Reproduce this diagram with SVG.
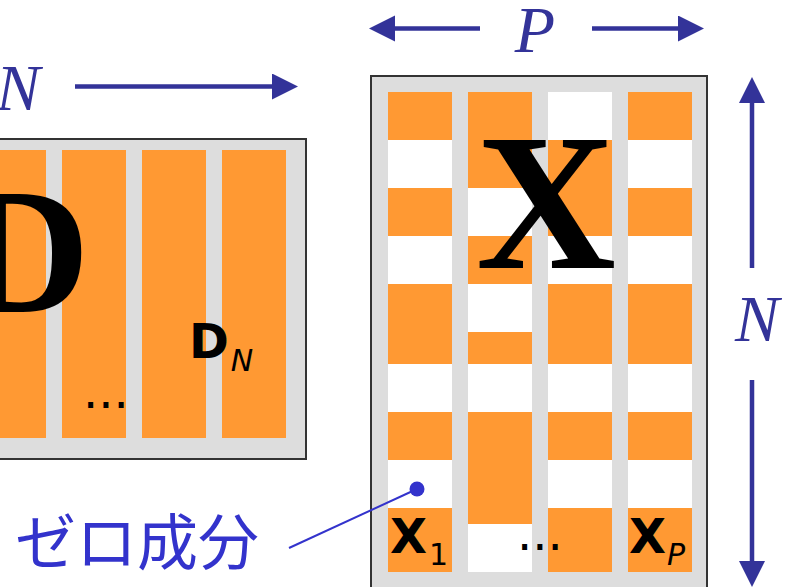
<svg xmlns="http://www.w3.org/2000/svg" width="790" height="587" viewBox="0 0 790 587">
<style>
.panel{fill:#dddddd;stroke:#333333;stroke-width:2}
.col{fill:#ffffff}
.or{fill:#ff9933}
.dim{stroke:#333399;stroke-width:4.5;fill:none;marker-end:url(#ah)}
.dimtxt{font-family:"Liberation Serif",serif;font-style:italic;font-size:66px;fill:#333399}
.big{font-family:"Liberation Serif",serif;font-weight:bold;fill:#000}
.lab{font-family:"DejaVu Sans",sans-serif;font-weight:bold;font-size:48px;fill:#000}
.sub{font-family:"DejaVu Sans",sans-serif;font-weight:normal;font-size:30px;fill:#000}
.dots{font-family:"DejaVu Sans",sans-serif;font-size:48px;fill:#000}
</style>
<defs>
<marker id="ah" markerUnits="userSpaceOnUse" markerWidth="27" markerHeight="27" refX="0" refY="13" orient="auto">
<path d="M0,0 L26,13 L0,26 z" fill="#333399"/>
</marker>
</defs>
<g id="matrixD">
<rect class="panel" x="-10" y="139" width="316" height="320"/>
<rect class="or" x="-18" y="150" width="64" height="288"/>
<rect class="or" x="62" y="150" width="64" height="288"/>
<rect class="or" x="142" y="150" width="64" height="288"/>
<rect class="or" x="222" y="150" width="64" height="288"/>
<text class="big" x="-40" y="312" font-size="180">D</text>
<text class="lab" x="189" y="358">D<tspan class="sub" font-style="italic" dx="2" y="371">N</tspan></text>
<text class="dots" x="83" y="408">...</text>
</g>
<g id="matrixX">
<rect class="panel" x="371" y="76" width="336" height="530"/>
<rect class="col" x="388" y="92" width="64" height="480"/>
<rect class="col" x="468" y="92" width="64" height="480"/>
<rect class="col" x="548" y="92" width="64" height="480"/>
<rect class="col" x="628" y="92" width="64" height="480"/>
<g id="col1">
<rect class="or" x="388" y="92" width="64" height="48"/>
<rect class="or" x="388" y="188" width="64" height="48"/>
<rect class="or" x="388" y="284" width="64" height="80"/>
<rect class="or" x="388" y="412" width="64" height="48"/>
<rect class="or" x="388" y="508" width="64" height="64"/>
</g>
<g id="col2">
<rect class="or" x="468" y="92" width="64" height="96"/>
<rect class="or" x="468" y="236" width="64" height="48"/>
<rect class="or" x="468" y="332" width="64" height="32"/>
<rect class="or" x="468" y="412" width="64" height="112"/>
</g>
<g id="col3">
<rect class="or" x="548" y="140" width="64" height="96"/>
<rect class="or" x="548" y="284" width="64" height="80"/>
<rect class="or" x="548" y="412" width="64" height="48"/>
<rect class="or" x="548" y="508" width="64" height="64"/>
</g>
<g id="col4">
<rect class="or" x="628" y="92" width="64" height="48"/>
<rect class="or" x="628" y="188" width="64" height="48"/>
<rect class="or" x="628" y="284" width="64" height="80"/>
<rect class="or" x="628" y="412" width="64" height="48"/>
<rect class="or" x="628" y="508" width="64" height="64"/>
</g>
<text class="big" x="546" y="268" font-size="194" text-anchor="middle">X</text>
<text class="lab" x="390" y="553">X<tspan class="sub" dx="2" y="565">1</tspan></text>
<text class="lab" x="629" y="553">X<tspan class="sub" font-style="italic" dx="1" y="565">P</tspan></text>
<text class="dots" x="517" y="550">...</text>
</g>
<g id="label-zero">
<text x="15" y="565" font-family="'Noto Sans CJK JP',sans-serif" font-size="61" fill="#3333cc">ゼロ成分</text>
</g>
<g id="connectors">
<line class="dim" x1="75" y1="86.5" x2="272" y2="86.5"/>
<line class="dim" x1="480" y1="28.5" x2="395" y2="28.5"/>
<line class="dim" x1="592" y1="28.5" x2="678" y2="28.5"/>
<line class="dim" x1="752" y1="268" x2="752" y2="103"/>
<line class="dim" x1="752" y1="380" x2="752" y2="561"/>
<line x1="289" y1="548" x2="417" y2="489" stroke="#3333cc" stroke-width="2"/>
<circle cx="417" cy="489" r="7.5" fill="#3333cc"/>
</g>
<g id="dim-labels">
<text class="dimtxt" x="-4" y="110">N</text>
<text class="dimtxt" x="535" y="52" text-anchor="middle">P</text>
<text class="dimtxt" x="735" y="341">N</text>
</g>
</svg>
